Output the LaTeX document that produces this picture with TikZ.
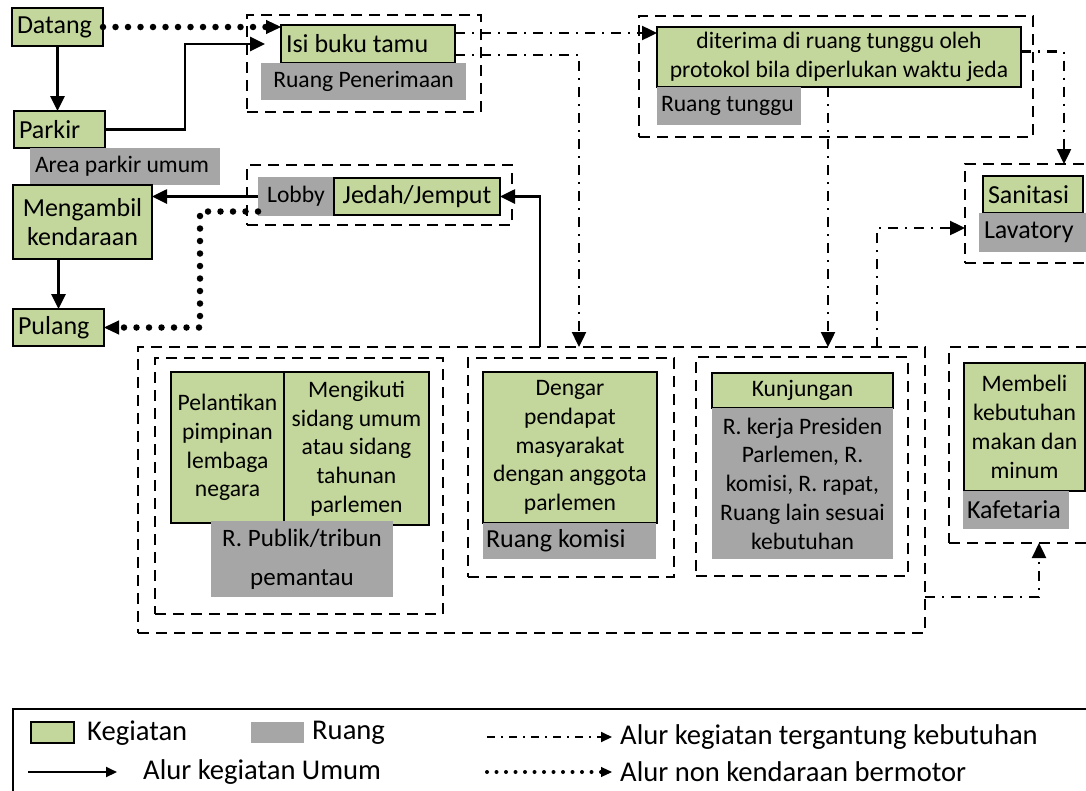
\documentclass[tikz,border=0pt]{standalone}
\usepackage{fontspec}
\setmainfont{Carlito}
\usetikzlibrary{arrows.meta}

\definecolor{hijau}{HTML}{C3D69B}
\definecolor{abu}{HTML}{A6A6A6}

\newcommand{\hurufbesar}{\fontsize{26}{29}\selectfont}
\newcommand{\hurufkecil}{\fontsize{23.6}{28.8}\selectfont}
\newcommand{\hurufket}{\fontsize{28.6}{34}\selectfont}

\begin{document}
\begin{tikzpicture}[x=1pt, y=-1pt,
        kotak/.style={anchor=north west, inner ysep=0pt, outer sep=0pt},
        keg/.style={kotak, draw=black, line width=2pt, fill=hijau},
        ruang/.style={kotak, fill=abu},
        grup/.style={kotak, draw=black, line width=2pt, dash pattern=on 11pt off 7pt},
        kiri/.style={align=flush left, inner xsep=5pt},
        umum/.style={line width=2.6pt, -{Triangle[length=15pt,width=14pt]}},
        butuh/.style={line width=2.4pt, dash pattern=on 10pt off 7pt on 2pt off 7pt,
            -{Triangle[length=15pt,width=14pt]}},
        jalan/.style={line width=6.5pt, line cap=round, dash pattern=on 0pt off 12.5pt,
            -{Triangle[length=15pt,width=14pt,line width=1pt]}},
        ket/.style={anchor=west, inner sep=0pt, font=\hurufket}]

        % Page frame
        \useasboundingbox (0,0) rectangle (1086,790);
        \clip (0,0) rectangle (1086,790);

        % Arrival and parking
        \node[keg, kiri, text width=81pt, minimum height=38pt, font=\hurufbesar] (datang) at (12,8) {Datang};
        \node[keg, kiri, text width=81pt, minimum height=37pt, font=\hurufbesar] (parkir) at (14,111) {Parkir};
        \node[ruang, kiri, text width=180pt, minimum height=37pt, font=\hurufkecil] (areaparkir) at (30,148) {Area parkir umum};
        \node[keg, align=center, minimum width=139pt, minimum height=74pt, font=\hurufbesar] (mengambil) at (13,185) {Mengambil\\kendaraan};
        \node[keg, kiri, text width=81pt, minimum height=37pt, font=\hurufbesar] (pulang) at (13,309) {Pulang};

        % Reception
        \node[grup, minimum width=234pt, minimum height=97pt] (gterima) at (247,15) {};
        \node[keg, kiri, text width=164pt, minimum height=38pt, font=\hurufbesar] (isibuku) at (281,25) {Isi buku tamu};
        \node[ruang, minimum width=205pt, minimum height=37pt, font=\hurufkecil] (rterima) at (261,63) {Ruang Penerimaan};

        % Waiting room
        \node[grup, minimum width=394pt, minimum height=121pt] (gtunggu) at (639,16) {};
        \node[keg, align=center, minimum width=364pt, minimum height=60pt, font=\hurufkecil] (diterima) at (657,27)
            {diterima di ruang tunggu oleh\\protokol bila diperlukan waktu jeda};
        \node[ruang, kiri, inner xsep=4pt, text width=136pt, minimum height=38pt, font=\hurufkecil] (rtunggu) at (657,87) {Ruang tunggu};

        % Lavatory
        \node[grup, minimum width=145pt, minimum height=99pt] (gwc) at (965,164) {};
        \node[keg, kiri, text width=90pt, minimum height=37pt, font=\hurufbesar] (sanitasi) at (983,176) {Sanitasi};
        \node[ruang, kiri, text width=100pt, minimum height=39pt, font=\hurufbesar] (lavatory) at (979,213) {Lavatory};

        % Lobby
        \node[grup, minimum width=265pt, minimum height=60pt] (globi) at (247,165) {};
        \node[ruang, minimum width=76pt, minimum height=39pt, font=\hurufkecil] (lobby) at (258,177) {Lobby};
        \node[keg, minimum width=166pt, minimum height=37pt, font=\hurufbesar] (jedah) at (334,178) {Jedah/Jemput};

        % Main building
        \node[grup, minimum width=787pt, minimum height=286pt] (gedung) at (138,347) {};

        \node[grup, minimum width=288pt, minimum height=256pt] (gpublik) at (155,358) {};
        \node[keg, align=center, minimum width=113pt, minimum height=151pt, font=\hurufkecil] (pelantikan) at (171,372)
            {Pelantikan\\pimpinan\\lembaga\\negara};
        \node[keg, align=center, minimum width=145pt, minimum height=153pt, font=\hurufkecil] (mengikuti) at (284,372)
            {Mengikuti\\sidang umum\\atau sidang\\tahunan\\parlemen};
        \node[ruang, align=center, minimum width=182pt, minimum height=76pt, font=\fontsize{25}{39}\selectfont] (rpublik) at (211,521)
            {R. Publik/tribun\\pemantau};

        \node[grup, minimum width=206pt, minimum height=219pt] (gkomisi) at (468,358) {};
        \node[keg, align=center, minimum width=174pt, minimum height=151pt, font=\hurufkecil] (dengar) at (483,372)
            {Dengar\\pendapat\\masyarakat\\dengan anggota\\parlemen};
        \node[ruang, kiri, inner xsep=3pt, text width=167pt, minimum height=36pt, font=\hurufbesar] (rkomisi) at (483,523) {Ruang komisi};

        \node[grup, minimum width=212pt, minimum height=219pt] (gkunjungan) at (696,357) {};
        \node[keg, minimum width=181pt, minimum height=35pt, font=\hurufkecil] (kunjungan) at (712,373) {Kunjungan};
        \node[ruang, align=center, minimum width=181pt, minimum height=151pt, font=\hurufkecil] (rkerja) at (712,408)
            {R. kerja Presiden\\Parlemen, R.\\komisi, R. rapat,\\Ruang lain sesuai\\kebutuhan};

        % Cafeteria
        \node[grup, minimum width=160pt, minimum height=196pt] (gkafe) at (949,347) {};
        \node[keg, align=center, minimum width=121pt, minimum height=128pt, font=\hurufkecil] (membeli) at (964,363)
            {Membeli\\kebutuhan\\makan dan\\minum};
        \node[ruang, kiri, inner xsep=4pt, text width=98pt, minimum height=38pt, font=\hurufbesar] (kafetaria) at (963,491) {Kafetaria};

        % General flow
        \draw[umum] (datang) -- (datang.south |- parkir.north);
        \draw[umum] (parkir.east) -- ++(80,0) |- ([xshift=-16pt]isibuku.west);
        \draw[umum] (lobby.west) -- (lobby.west -| mengambil.east);
        \draw[umum] (pulang.north |- mengambil.south) -- (pulang.north);
        \draw[umum] ([xshift=402pt]gedung.north west) |- (jedah.east);

        % Flow depending on need
        \coordinate (keluar1) at ([yshift=-8pt]isibuku.north east);
        \coordinate (keluar2) at ([yshift=8pt]isibuku.south east);
        \coordinate (turun) at ([xshift=-11pt]diterima.south);
        \coordinate (kanan) at ([yshift=5.5pt]diterima.east);
        \draw[butuh] (keluar1) -- (keluar1 -| diterima.west);
        \draw[butuh] (keluar2) -| ([xshift=441pt]gedung.north west);
        \draw[butuh] (turun) -- (turun |- gedung.north);
        \draw[butuh] (kanan) -| ([xshift=99pt]gwc.north west);
        \draw[butuh] ([xshift=739pt]gedung.north west) |- ([yshift=-14.5pt]gwc.west);
        \draw[butuh] ([yshift=36pt]gedung.south east) -| ([xshift=90pt]gkafe.south west);

        % Walking flow
        \coordinate (lobi2) at ([yshift=-15pt]lobby.west);
        \draw[jalan] (datang) -- (datang -| isibuku.west);
        \draw[jalan] (lobi2) -- ++(-58,0) |- (pulang.east);

        % Legend
        \draw[line width=2pt] (13,709) rectangle (1100,810);
        \node[keg, line width=1.5pt, minimum width=43pt, minimum height=21pt] (swhijau) at (31,722) {};
        \node[ket] (tkeg) at (87,733) {Kegiatan};
        \node[ruang, minimum width=53pt, minimum height=21pt] (swabu) at (251,722) {};
        \node[ket] (truang) at (312,733) {Ruang};
        \coordinate (l1) at (28,772);
        \draw[line width=2pt, -{Triangle[length=11pt,width=10pt]}] (l1) -- ++(89,0);
        \node[ket] (tumum) at (143,772) {Alur kegiatan Umum};
        \coordinate (l2) at (487,737);
        \draw[line width=1.8pt, dash pattern=on 8pt off 6pt on 2pt off 6pt, -{Triangle[length=11pt,width=10pt]}] (l2) -- ++(125,0);
        \node[ket] (tbutuh) at (620,737) {Alur kegiatan tergantung kebutuhan};
        \coordinate (l3) at (487,772);
        \draw[line width=4pt, line cap=round, dash pattern=on 0pt off 9.5pt, -{Triangle[length=11pt,width=10pt,line width=1pt]}] (l3) -- ++(125,0);
        \node[ket] (tjalan) at (620,772) {Alur non kendaraan bermotor};
\end{tikzpicture}
\end{document}
